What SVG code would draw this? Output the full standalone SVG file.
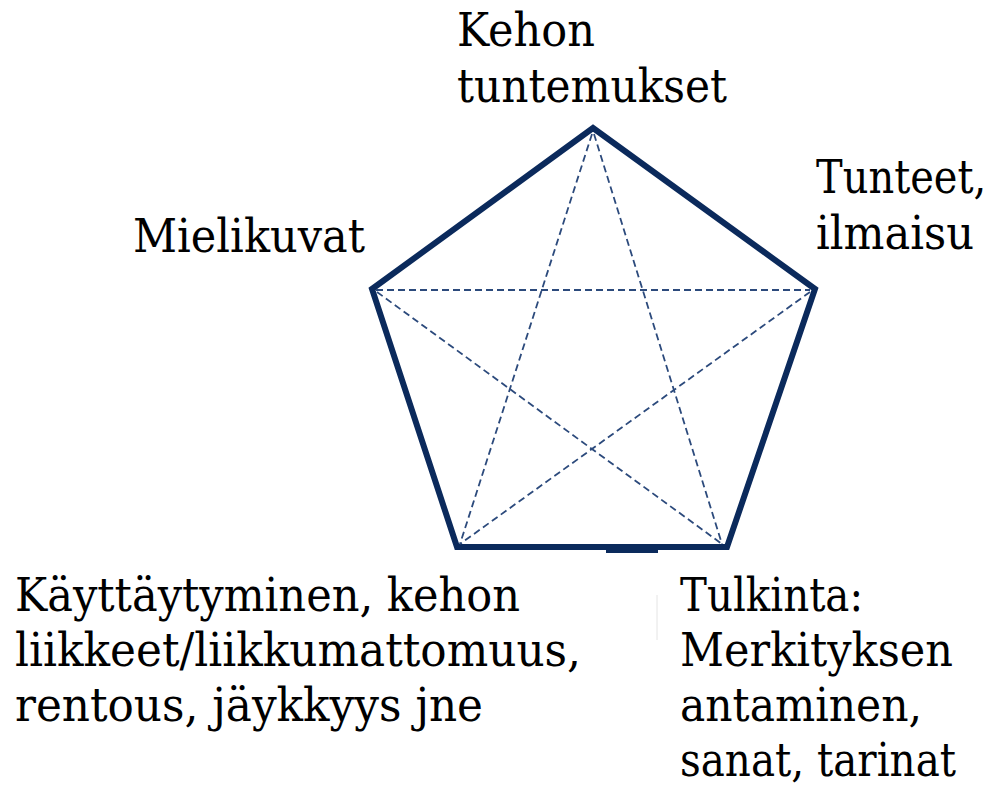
<svg xmlns="http://www.w3.org/2000/svg" width="998" height="787" viewBox="0 0 998 787">
<style>
.lbl{font-family:"DejaVu Serif","Liberation Serif",serif;font-size:46px;fill:#000}
.edge{fill:none;stroke:#0b2a5c;stroke-width:6;stroke-linejoin:miter}
.dash{fill:none;stroke:#2c4a7c;stroke-width:1.8;stroke-dasharray:7 4}
</style>
<rect width="998" height="787" fill="#fff"/>
<g id="pentagon">
<polygon class="edge" points="593,128 815,289 727,547 457,547 372,289"/>
<rect x="606" y="546" width="52" height="7" fill="#0b2a5c"/>
</g>
<g id="connectors">
<line class="dash" x1="592" y1="134" x2="460" y2="544"/>
<line class="dash" x1="594" y1="134" x2="722" y2="544"/>
<line class="dash" x1="376" y1="290" x2="810" y2="290"/>
<line class="dash" x1="377" y1="292" x2="722" y2="544"/>
<line class="dash" x1="810" y1="292" x2="460" y2="544"/>
</g>
<line x1="657" y1="595" x2="657" y2="640" stroke="#e4e4e4" stroke-width="1"/>
<g id="node-kehon">
<text class="lbl" x="457" y="46" textLength="138" lengthAdjust="spacingAndGlyphs">Kehon</text>
<text class="lbl" x="457" y="102" textLength="270" lengthAdjust="spacingAndGlyphs">tuntemukset</text>
</g>
<g id="node-tunteet">
<text class="lbl" transform="translate(816,193) scale(0.86,1)" x="0" y="0" textLength="198" lengthAdjust="spacingAndGlyphs">Tunteet,</text>
<text class="lbl" x="816" y="249" textLength="158" lengthAdjust="spacingAndGlyphs">ilmaisu</text>
</g>
<g id="node-mielikuvat">
<text class="lbl" x="133" y="252" textLength="232" lengthAdjust="spacingAndGlyphs">Mielikuvat</text>
</g>
<g id="node-kayttaytyminen">
<text class="lbl" x="15" y="611" textLength="505" lengthAdjust="spacingAndGlyphs">Käyttäytyminen, kehon</text>
<text class="lbl" x="15" y="666" textLength="566" lengthAdjust="spacingAndGlyphs">liikkeet/liikkumattomuus,</text>
<text class="lbl" x="15" y="721" textLength="468" lengthAdjust="spacingAndGlyphs">rentous, jäykkyys jne</text>
</g>
<g id="node-tulkinta">
<text class="lbl" x="680" y="611" textLength="183" lengthAdjust="spacingAndGlyphs">Tulkinta:</text>
<text class="lbl" x="680" y="666" textLength="273" lengthAdjust="spacingAndGlyphs">Merkityksen</text>
<text class="lbl" x="680" y="721" textLength="242" lengthAdjust="spacingAndGlyphs">antaminen,</text>
<text class="lbl" x="680" y="776" textLength="276" lengthAdjust="spacingAndGlyphs">sanat, tarinat</text>
</g>
</svg>
